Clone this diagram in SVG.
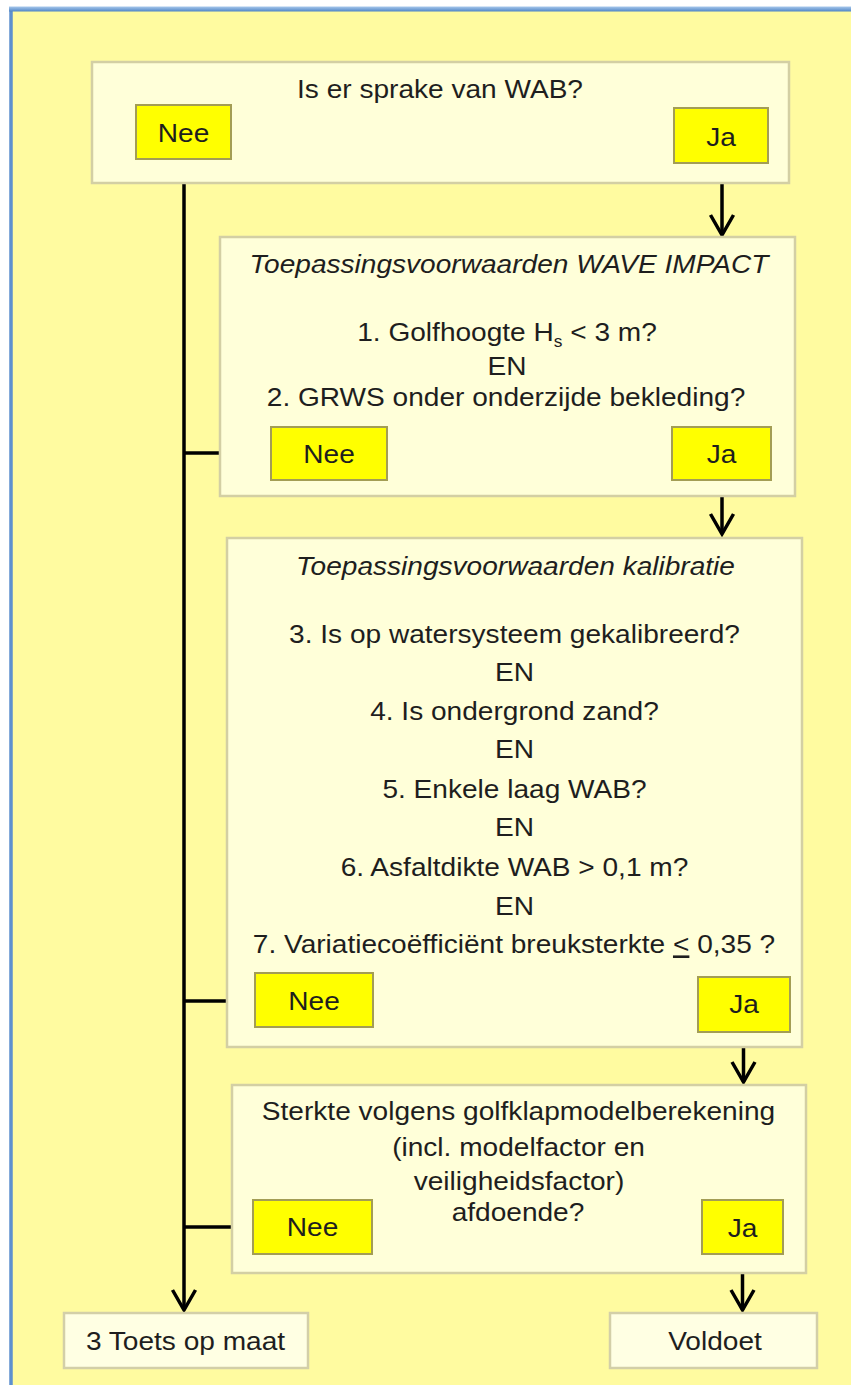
<svg xmlns="http://www.w3.org/2000/svg" width="851" height="1385" viewBox="0 0 851 1385">
  <style>
    text { font-family: "Liberation Sans", Arial, sans-serif; font-size: 26px; fill: #1e1e1e; text-anchor: middle; }
    .title { font-style: italic; }
    .panel { fill: #FFFFD9; stroke: #D3CFA4; stroke-width: 2.5; }
    .result { fill: #FFFFE3; stroke: #D3CFA8; stroke-width: 2.5; }
    .tag { fill: #FFFF00; stroke: #A39D55; stroke-width: 2; }
    .wire { fill: none; stroke: #000; stroke-width: 3.5; }
  </style>
  <defs>
    <marker id="arrow" markerUnits="userSpaceOnUse" markerWidth="30" markerHeight="30" viewBox="-25 -15 30 30" refX="0" refY="0" orient="auto" overflow="visible">
      <path d="M-20,-11.5 L0,0 L-20,11.5" fill="none" stroke="#000" stroke-width="3.5" stroke-linejoin="miter"/>
    </marker>
    <linearGradient id="frameTop" x1="0" y1="0" x2="0" y2="1">
      <stop offset="0" stop-color="#A8C8EC"/>
      <stop offset="1" stop-color="#4F85C6"/>
    </linearGradient>
  </defs>

  <!-- page and framed panel -->
  <rect x="0" y="0" width="851" height="1385" fill="#FFFFFF"/>
  <rect x="11" y="9" width="860" height="1400" fill="#FFFBA0" stroke="#5E90CE" stroke-width="3.5"/>
  <rect x="9" y="6.5" width="842" height="5" fill="url(#frameTop)"/>

  <!-- connectors -->
  <g id="connectors">
    <line class="wire" x1="184" y1="159" x2="184" y2="1310" marker-end="url(#arrow)"/>
    <line class="wire" x1="184" y1="453" x2="271" y2="453"/>
    <line class="wire" x1="184" y1="1001" x2="255" y2="1001"/>
    <line class="wire" x1="184" y1="1227" x2="253" y2="1227"/>
    <line class="wire" x1="722" y1="163" x2="722" y2="235" marker-end="url(#arrow)"/>
    <line class="wire" x1="722" y1="480" x2="722" y2="534" marker-end="url(#arrow)"/>
    <line class="wire" x1="743.5" y1="1032" x2="743.5" y2="1082" marker-end="url(#arrow)"/>
    <line class="wire" x1="742.5" y1="1254" x2="742.5" y2="1310" marker-end="url(#arrow)"/>
  </g>

  <!-- question: WAB present -->
  <g id="q-wab">
    <rect class="panel" x="92" y="62" width="697" height="121"/>
    <text transform="translate(440 0) scale(1.08 1)" x="0" y="98">Is er sprake van WAB?</text>
  </g>
  <g id="q-wab-nee">
    <rect class="tag" x="136" y="105" width="95" height="54"/>
    <text transform="translate(183.5 0) scale(1.08 1)" x="0" y="142">Nee</text>
  </g>
  <g id="q-wab-ja">
    <rect class="tag" x="674" y="108" width="94" height="55"/>
    <text transform="translate(721 0) scale(1.08 1)" x="0" y="146">Ja</text>
  </g>

  <!-- conditions WAVE IMPACT -->
  <g id="q-waveimpact">
    <rect class="panel" x="220" y="237" width="575" height="259"/>
    <text class="title" transform="translate(509 0) scale(1.08 1)" x="0" y="273">Toepassingsvoorwaarden WAVE IMPACT</text>
    <text transform="translate(507 0) scale(1.08 1)" x="0" y="341.5">1. Golfhoogte H<tspan font-size="16" dy="6">s</tspan><tspan dy="-6"> &lt; 3 m?</tspan></text>
    <text transform="translate(507 0) scale(1.08 1)" x="0" y="375">EN</text>
    <text transform="translate(506 0) scale(1.08 1)" x="0" y="406.5">2. GRWS onder onderzijde bekleding?</text>
  </g>
  <g id="q-waveimpact-nee">
    <rect class="tag" x="271" y="427" width="116" height="53"/>
    <text transform="translate(329 0) scale(1.08 1)" x="0" y="463">Nee</text>
  </g>
  <g id="q-waveimpact-ja">
    <rect class="tag" x="672" y="427" width="99" height="53"/>
    <text transform="translate(721.5 0) scale(1.08 1)" x="0" y="463">Ja</text>
  </g>

  <!-- conditions calibration -->
  <g id="q-kalibratie">
    <rect class="panel" x="227" y="538" width="575" height="509"/>
    <text class="title" transform="translate(515.5 0) scale(1.08 1)" x="0" y="575">Toepassingsvoorwaarden kalibratie</text>
    <text transform="translate(514.5 0) scale(1.08 1)" x="0" y="643.5">3. Is op watersysteem gekalibreerd?</text>
    <text transform="translate(514.5 0) scale(1.08 1)" x="0" y="681.5">EN</text>
    <text transform="translate(514.5 0) scale(1.08 1)" x="0" y="720">4. Is ondergrond zand?</text>
    <text transform="translate(514.5 0) scale(1.08 1)" x="0" y="758.5">EN</text>
    <text transform="translate(514.5 0) scale(1.08 1)" x="0" y="798">5. Enkele laag WAB?</text>
    <text transform="translate(514.5 0) scale(1.08 1)" x="0" y="836">EN</text>
    <text transform="translate(514.5 0) scale(1.08 1)" x="0" y="876">6. Asfaltdikte WAB &gt; 0,1 m?</text>
    <text transform="translate(514.5 0) scale(1.08 1)" x="0" y="915">EN</text>
    <text transform="translate(514 0) scale(1.08 1)" x="0" y="953.5">7. Variatiecoëfficiënt breuksterkte <tspan text-decoration="underline">&lt;</tspan> 0,35 ?</text>
  </g>
  <g id="q-kalibratie-nee">
    <rect class="tag" x="255" y="973" width="118" height="54"/>
    <text transform="translate(314 0) scale(1.08 1)" x="0" y="1010">Nee</text>
  </g>
  <g id="q-kalibratie-ja">
    <rect class="tag" x="698" y="977" width="92" height="55"/>
    <text transform="translate(744 0) scale(1.08 1)" x="0" y="1013.5">Ja</text>
  </g>

  <!-- strength by wave impact model -->
  <g id="q-sterkte">
    <rect class="panel" x="232" y="1085" width="574" height="188"/>
    <text transform="translate(518.5 0) scale(1.08 1)" x="0" y="1120">Sterkte volgens golfklapmodelberekening</text>
    <text transform="translate(518.5 0) scale(1.08 1)" x="0" y="1156.5">(incl. modelfactor en</text>
    <text transform="translate(519 0) scale(1.08 1)" x="0" y="1190">veiligheidsfactor)</text>
    <text transform="translate(518 0) scale(1.08 1)" x="0" y="1221.5">afdoende?</text>
  </g>
  <g id="q-sterkte-nee">
    <rect class="tag" x="253" y="1200" width="119" height="54"/>
    <text transform="translate(312.5 0) scale(1.08 1)" x="0" y="1236.5">Nee</text>
  </g>
  <g id="q-sterkte-ja">
    <rect class="tag" x="702" y="1200" width="81" height="54"/>
    <text transform="translate(742.5 0) scale(1.08 1)" x="0" y="1237">Ja</text>
  </g>

  <!-- outcomes -->
  <g id="out-toets">
    <rect class="result" x="64" y="1313" width="244" height="55"/>
    <text transform="translate(185.5 0) scale(1.08 1)" x="0" y="1350">3 Toets op maat</text>
  </g>
  <g id="out-voldoet">
    <rect class="result" x="610" y="1313" width="207" height="55"/>
    <text transform="translate(715 0) scale(1.08 1)" x="0" y="1350">Voldoet</text>
  </g>
</svg>
